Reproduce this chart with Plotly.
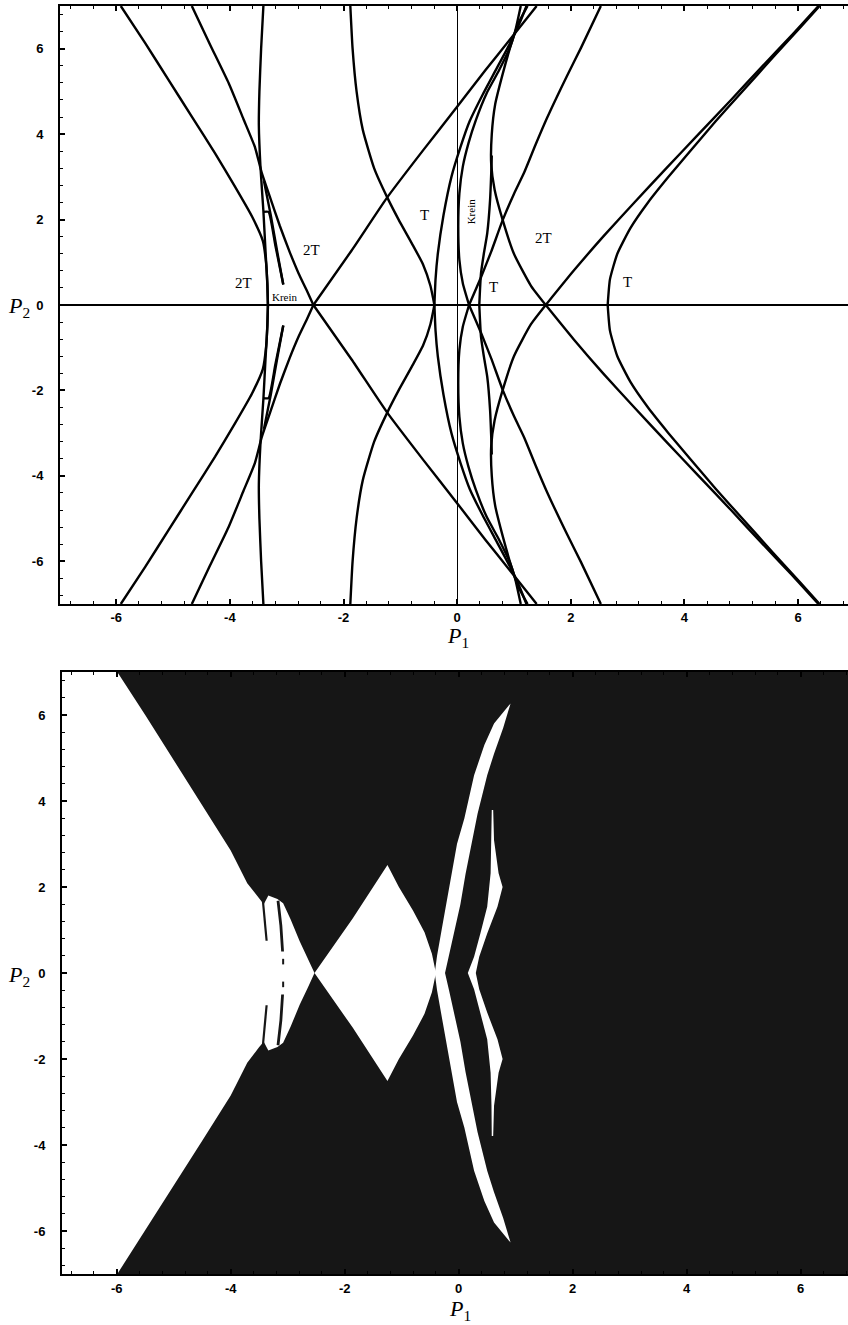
import plotly.graph_objects as go

# ---------------------------------------------------------------
# Tick marks shared by both panels
# ---------------------------------------------------------------
TICK_VALUES = [-6, -4, -2, 0, 2, 4, 6]
TICK_LABELS = ["-6", "-4", "-2", "0", "2", "4", "6"]

# ---------------------------------------------------------------
# Upper panel: bifurcation curves in the (P1, P2) plane.
# Each curve is given for P2 >= 0; the diagram is symmetric in P2,
# so every curve is drawn together with its mirror image.
# ---------------------------------------------------------------
LEFT_OUTER_P1 = [-5.92, -5.49, -5.08, -4.67, -4.26, -3.91, -3.61, -3.42, -3.36, -3.34, -3.33]
LEFT_OUTER_P2 = [7.0, 6.13, 5.27, 4.41, 3.55, 2.77, 2.07, 1.50, 0.95, 0.45, 0.0]

LEFT_STEEP_P1 = [-3.41, -3.45, -3.48, -3.49, -3.46, -3.41, -3.37, -3.34, -3.33]
LEFT_STEEP_P2 = [7.0, 6.0, 5.0, 4.2, 3.2, 2.2, 1.2, 0.5, 0.0]

LEFT_2T_P1 = [-4.67, -4.35, -4.02, -3.76, -3.56, -3.44, -3.30, -3.12, -2.95, -2.79, -2.65, -2.53]
LEFT_2T_P2 = [7.0, 6.1, 5.19, 4.35, 3.7, 3.1, 2.55, 1.85, 1.25, 0.74, 0.35, 0.0]

KREIN_SPIKE_A_P1 = [-3.41, -3.32, -3.20, -3.06]
KREIN_SPIKE_A_P2 = [2.18, 2.18, 1.40, 0.48]
KREIN_SPIKE_B_P1 = [-3.40, -3.28, -3.16, -3.06]
KREIN_SPIKE_B_P2 = [2.9, 2.1, 1.2, 0.48]

CENTRE_2T_P1 = [-2.53, -1.86, -1.23, -0.60, 0.0, 0.50, 0.92, 1.40]
CENTRE_2T_P2 = [0.0, 1.27, 2.52, 3.62, 4.64, 5.5, 6.2, 7.0]

CENTRE_T_LEFT_P1 = [-1.88, -1.84, -1.77, -1.66, -1.46, -1.23, -1.03, -0.80, -0.60, -0.47, -0.40]
CENTRE_T_LEFT_P2 = [7.0, 6.0, 5.0, 4.1, 3.2, 2.52, 2.0, 1.45, 0.95, 0.45, 0.0]

CENTRE_T_RIGHT_P1 = [-0.40, -0.38, -0.34, -0.24, -0.10, 0.06, 0.22, 0.44, 0.68, 0.92, 1.10, 1.22]
CENTRE_T_RIGHT_P2 = [0.0, 0.6, 1.2, 2.1, 3.0, 3.7, 4.3, 4.9, 5.5, 6.1, 6.6, 7.0]

KREIN_LEFT_P1 = [0.21, 0.10, 0.04, 0.02, 0.04, 0.10, 0.20, 0.33, 0.52, 0.74, 0.92, 1.02, 1.12]
KREIN_LEFT_P2 = [0.0, 0.51, 1.05, 1.83, 2.62, 3.24, 3.79, 4.33, 4.96, 5.5, 6.0, 6.4, 7.0]

KREIN_RIGHT_P1 = [0.39, 0.42, 0.47, 0.53, 0.58, 0.60, 0.61]
KREIN_RIGHT_P2 = [0.0, 0.74, 1.2, 1.68, 2.46, 3.08, 3.5]

MID_2T_P1 = [1.56, 1.30, 1.0, 0.80, 0.66, 0.60, 0.61, 0.67, 0.80, 0.95, 1.08, 1.24]
MID_2T_P2 = [0.0, 0.45, 1.2, 2.0, 2.7, 3.3, 4.0, 4.7, 5.4, 6.1, 6.6, 7.0]

MID_T_P1 = [0.21, 0.42, 0.60, 0.80, 1.0, 1.18, 1.38, 1.59, 1.94, 2.18, 2.53]
MID_T_P2 = [0.0, 0.65, 1.25, 1.98, 2.6, 3.1, 3.75, 4.4, 5.38, 6.02, 7.0]

RIGHT_2T_P1 = [1.56, 2.05, 2.57, 3.12, 3.68, 4.25, 4.82, 5.38, 5.88, 6.36]
RIGHT_2T_P2 = [0.0, 0.8, 1.6, 2.4, 3.2, 4.0, 4.8, 5.6, 6.3, 7.0]

RIGHT_T_P1 = [2.65, 2.69, 2.82, 3.05, 3.36, 3.72, 4.10, 4.55, 5.02, 5.56, 6.04, 6.38]
RIGHT_T_P2 = [0.0, 0.6, 1.2, 1.8, 2.4, 3.0, 3.6, 4.3, 5.0, 5.8, 6.5, 7.0]

# Region labels of the upper panel
LABEL_TEXT = ["2T", "Krein", "2T", "T", "Krein", "T", "2T", "T"]
LABEL_P1 = [-3.76, -3.03, -2.56, -0.58, 0.26, 0.64, 1.52, 3.0]
LABEL_P2 = [0.51, 0.19, 1.29, 2.11, 2.19, 0.43, 1.56, 0.55]
LABEL_SIZE = [15, 11, 15, 15, 11, 15, 15, 15]
LABEL_ANGLE = [0, 0, 0, 0, -90, 0, 0, 0]

# ---------------------------------------------------------------
# Lower panel: stable (white) parts of the parameter plane,
# boundaries given for P2 >= 0 and mirrored.
# ---------------------------------------------------------------
STABLE_LEFT_P1 = [-7.3, -5.99, -5.5, -5.0, -4.5, -4.0, -3.71, -3.50, -3.42, -3.34,
                  -3.18, -3.08, -2.95, -2.79, -2.65, -2.53]
STABLE_LEFT_P2 = [7.0, 7.0, 6.0, 4.95, 3.9, 2.85, 2.09, 1.72, 1.6, 1.8,
                  1.72, 1.62, 1.25, 0.74, 0.35, 0.0]

STABLE_DIAMOND_P1 = [-2.53, -1.86, -1.25, -1.05, -0.80, -0.60, -0.47, -0.40]
STABLE_DIAMOND_P2 = [0.0, 1.27, 2.51, 2.0, 1.45, 0.95, 0.45, 0.0]

STABLE_CRESCENT_P1 = [-0.42, -0.38, -0.30, -0.22, -0.12, -0.03, 0.10, 0.27, 0.45, 0.62, 0.91,
                      0.78, 0.62, 0.50, 0.33, 0.22, 0.12, 0.03, -0.07, -0.17, -0.24]
STABLE_CRESCENT_P2 = [0.0, 0.4, 1.0, 1.6, 2.3, 3.0, 3.6, 4.6, 5.3, 5.8, 6.27,
                      5.7, 5.1, 4.6, 3.7, 3.0, 2.3, 1.6, 1.0, 0.4, 0.0]

STABLE_WEDGE_P1 = [0.16, 0.27, 0.38, 0.50, 0.56, 0.575, 0.58,
                   0.605, 0.62, 0.70, 0.77, 0.68, 0.50, 0.36, 0.30]
STABLE_WEDGE_P2 = [0.0, 0.38, 0.92, 1.54, 2.32, 3.09, 3.79,
                   3.79, 3.09, 2.32, 2.0, 1.54, 0.92, 0.38, 0.0]

UNSTABLE_SPIKE_A_P1 = [-3.44, -3.40, -3.37]
UNSTABLE_SPIKE_A_P2 = [1.75, 1.2, 0.75]
UNSTABLE_SPIKE_B_P1 = [-3.17, -3.12, -3.09]
UNSTABLE_SPIKE_B_P2 = [1.68, 1.1, 0.5]
UNSTABLE_FLECK_P1 = [-3.08, -3.08]
UNSTABLE_FLECK_P2 = [0.33, 0.2]

UNSTABLE_COLOR = "#161616"

W, H = 848, 1325


def both_halves(p1, p2):
    """Curve plus its reflection P2 -> -P2, separated by a gap."""
    return list(p1) + [None] + list(p1), list(p2) + [None] + [-v for v in p2]


def closed_region(p1, p2):
    """Close a boundary that ends on P2 = 0 with its mirror image."""
    rp1, rp2 = p1[::-1], p2[::-1]
    return list(p1) + list(rp1[1:]), list(p2) + [-v for v in rp2[1:]]


fig = go.Figure()

# ---- upper panel curves ----
upper_curves = [
    (LEFT_OUTER_P1, LEFT_OUTER_P2),
    (LEFT_STEEP_P1, LEFT_STEEP_P2),
    (LEFT_2T_P1, LEFT_2T_P2),
    (KREIN_SPIKE_A_P1, KREIN_SPIKE_A_P2),
    (KREIN_SPIKE_B_P1, KREIN_SPIKE_B_P2),
    (CENTRE_2T_P1, CENTRE_2T_P2),
    (CENTRE_T_LEFT_P1, CENTRE_T_LEFT_P2),
    (CENTRE_T_RIGHT_P1, CENTRE_T_RIGHT_P2),
    (KREIN_LEFT_P1, KREIN_LEFT_P2),
    (KREIN_RIGHT_P1, KREIN_RIGHT_P2),
    (MID_2T_P1, MID_2T_P2),
    (MID_T_P1, MID_T_P2),
    (RIGHT_2T_P1, RIGHT_2T_P2),
    (RIGHT_T_P1, RIGHT_T_P2),
]
for p1, p2 in upper_curves:
    xs, ys = both_halves(p1, p2)
    fig.add_trace(go.Scatter(
        x=xs, y=ys, mode="lines",
        line=dict(color="black", width=2.4, shape="spline", smoothing=0.5),
        xaxis="x", yaxis="y", hoverinfo="skip", showlegend=False))

# ---- lower panel: stable regions in white over the unstable background ----
for p1, p2 in [(STABLE_LEFT_P1, STABLE_LEFT_P2), (STABLE_DIAMOND_P1, STABLE_DIAMOND_P2),
               (STABLE_CRESCENT_P1, STABLE_CRESCENT_P2), (STABLE_WEDGE_P1, STABLE_WEDGE_P2)]:
    xs, ys = closed_region(p1, p2)
    fig.add_trace(go.Scatter(
        x=xs, y=ys, mode="lines", fill="toself", fillcolor="white",
        line=dict(width=0, color="white"), xaxis="x2", yaxis="y2",
        hoverinfo="skip", showlegend=False))

for p1, p2, w in [(UNSTABLE_SPIKE_A_P1, UNSTABLE_SPIKE_A_P2, 2.2),
                  (UNSTABLE_SPIKE_B_P1, UNSTABLE_SPIKE_B_P2, 2.8),
                  (UNSTABLE_FLECK_P1, UNSTABLE_FLECK_P2, 2.0)]:
    xs, ys = both_halves(p1, p2)
    fig.add_trace(go.Scatter(
        x=xs, y=ys, mode="lines", line=dict(color=UNSTABLE_COLOR, width=w),
        xaxis="x2", yaxis="y2", hoverinfo="skip", showlegend=False))

# ---- axes ----
tick_font = dict(family="Liberation Sans", size=13, color="black", weight="bold")
minor = dict(ticks="inside", ticklen=3, tickwidth=1, tickcolor="black", dtick=0.4, tick0=0)


def axis(domain, rng, **kw):
    d = dict(domain=domain, range=rng, showline=True, linecolor="black", linewidth=2,
             ticks="inside", ticklen=5, tickwidth=1.5, tickcolor="black",
             tickmode="array", tickvals=TICK_VALUES, ticktext=TICK_LABELS,
             tickfont=tick_font, showgrid=False, minor=minor, fixedrange=True)
    d.update(kw)
    return d


top_x = [60 / W, 1.0]
top_y = [(H - 604) / H, (H - 6) / H]
bot_x = [62 / W, 1.0]
bot_y = [(H - 1274) / H, (H - 672) / H]

fig.update_layout(
    width=W, height=H, autosize=False,
    margin=dict(l=0, r=0, t=0, b=0),
    paper_bgcolor="white", plot_bgcolor="white",
    xaxis=axis(top_x, [-6.99, 6.88], anchor="y", mirror="ticks",
               zeroline=True, zerolinecolor="black", zerolinewidth=1, ticklabelstandoff=0),
    yaxis=axis(top_y, [-7, 7], anchor="x", mirror=False,
               zeroline=True, zerolinecolor="black", zerolinewidth=1.6, ticklabelstandoff=12),
    xaxis2=axis(bot_x, [-6.96, 6.83], anchor="y2", mirror="ticks", zeroline=False,
                ticklabelstandoff=1),
    yaxis2=axis(bot_y, [-7, 7], anchor="x2", mirror=False, zeroline=False,
                ticklabelstandoff=12),
    shapes=[dict(type="rect", xref="x2 domain", yref="y2 domain", x0=0, x1=1, y0=0, y1=1,
                 fillcolor=UNSTABLE_COLOR, line=dict(width=0), layer="below")],
)

annotations = []
for t, x, y, s, a in zip(LABEL_TEXT, LABEL_P1, LABEL_P2, LABEL_SIZE, LABEL_ANGLE):
    annotations.append(dict(text=t, x=x, y=y, xref="x", yref="y", showarrow=False,
                            textangle=a, font=dict(family="Liberation Serif", size=s, color="black")))

axis_title_font = dict(family="Liberation Serif", size=22, color="black")
annotations += [
    dict(text="<i>P</i><sub>2</sub>", x=6 / W, y=(H - 307) / H, xref="paper", yref="paper",
         xanchor="left", yanchor="middle", showarrow=False, font=axis_title_font),
    dict(text="<i>P</i><sub>1</sub>", x=458 / W, y=(H - 637) / H, xref="paper", yref="paper",
         xanchor="center", yanchor="middle", showarrow=False, font=axis_title_font),
    dict(text="<i>P</i><sub>2</sub>", x=6 / W, y=(H - 976) / H, xref="paper", yref="paper",
         xanchor="left", yanchor="middle", showarrow=False, font=axis_title_font),
    dict(text="<i>P</i><sub>1</sub>", x=460 / W, y=(H - 1310) / H, xref="paper", yref="paper",
         xanchor="center", yanchor="middle", showarrow=False, font=axis_title_font),
]
fig.update_layout(annotations=annotations)

fig.write_html("out.html")
